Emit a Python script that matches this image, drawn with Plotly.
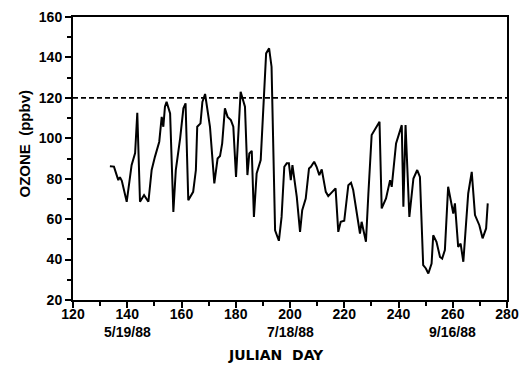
import plotly.graph_objects as go

day = [133.6, 135.1, 136.1, 136.7, 137.3, 138.0, 139.8, 141.6, 142.9, 143.7, 144.7, 146.2, 147.8,
       149.0, 150.2, 151.8, 152.7, 153.3, 153.9, 154.5, 155.8, 157.0, 157.9, 159.5, 160.7, 161.5,
       162.5, 164.3, 165.3, 165.8, 167.0, 167.7, 168.7, 169.3, 170.5, 172.1, 173.3, 174.2, 175.0,
       176.0, 177.0, 178.2, 179.1, 180.1, 180.9, 181.8, 183.4, 184.3, 185.0, 185.9, 186.7, 187.7,
       189.2, 191.2, 192.3, 193.2, 194.5, 195.9, 196.9, 197.9, 198.8, 199.6, 200.3, 200.9, 202.5,
       203.7, 204.5, 205.8, 207.0, 207.7, 208.9, 209.8, 210.8, 211.7, 213.2, 214.1, 216.8, 217.8,
       218.7, 220.0, 221.5, 222.5, 223.3, 225.8, 226.4, 227.3, 228.0, 228.9, 230.1, 233.0, 233.8,
       235.4, 236.9, 237.5, 239.1, 241.2, 241.8, 242.6, 243.0, 244.0, 245.5, 246.9, 247.9, 249.1,
       250.1, 251.0, 252.2, 252.8, 254.0, 255.3, 256.1, 257.1, 258.3, 259.6, 260.2, 260.8, 262.0,
       262.9, 263.9, 265.7, 267.0, 268.2, 269.8, 271.0, 272.3, 272.9]
ozone = [86.2, 86.0, 81.8, 79.3, 80.8, 79.0, 68.6, 86.7, 92.7, 112.6, 68.6, 71.9, 68.6,
         84.3, 90.8, 98.3, 110.6, 105.7, 115.6, 118.0, 112.3, 63.6, 84.3, 100.0, 114.8, 117.3,
         69.4, 73.5, 84.3, 105.7, 107.4, 118.0, 121.9, 115.6, 105.7, 77.7, 90.0, 91.2, 97.5,
         114.8, 110.6, 109.0, 105.7, 80.9, 99.1, 123.0, 115.6, 81.8, 92.5, 93.8, 61.1, 82.6,
         89.2, 142.0, 144.5, 135.4, 54.5, 49.3, 61.1, 85.9, 87.6, 87.6, 79.3, 86.7, 71.0,
         53.7, 64.4, 70.2, 85.1, 85.9, 88.4, 85.9, 81.8, 84.6, 73.5, 71.4, 75.2, 53.7,
         58.7, 59.2, 76.8, 78.0, 74.4, 52.9, 58.7, 52.0, 48.8, 72.7, 101.6, 108.2, 65.3,
         70.2, 79.3, 76.0, 97.5, 106.5, 66.1, 106.5, 93.3, 61.1, 80.1, 84.3, 80.9, 37.2,
         35.6, 33.1, 38.0, 52.0, 48.8, 41.3, 40.5, 44.7, 76.0, 67.8, 62.8, 67.8, 46.3,
         47.9, 38.9, 72.7, 83.4, 62.0, 57.0, 50.5, 55.4, 67.8]

standard = 120
date_days = [140, 200, 260]
date_labels = ["5/19/88", "7/18/88", "9/16/88"]
x_title = "JULIAN  DAY"
y_title = "OZONE  (ppbv)"

FONT = "Liberation Sans"
TXT = dict(family=FONT, size=14, color="black", weight="bold")

fig = go.Figure()
fig.add_trace(go.Scatter(x=day, y=ozone, mode="lines",
                         line=dict(color="black", width=2), showlegend=False))

fig.add_shape(type="line", xref="paper", x0=0, x1=1, yref="y", y0=standard, y1=standard,
              line=dict(color="black", width=1.6, dash="5px,3px"))

for d, lab in zip(date_days, date_labels):
    fig.add_annotation(x=d, xref="x", y=0, yref="paper", yshift=-32, text=lab,
                       showarrow=False, font=TXT, xanchor="center", yanchor="middle")

fig.add_annotation(x=0.4666, xref="paper", y=0, yref="paper", yshift=-55, text=x_title,
                   showarrow=False, font=dict(family="DejaVu Sans", size=14, color="black", weight="bold"),
                   xanchor="center", yanchor="middle")
fig.add_annotation(x=0, xref="paper", xshift=-48, y=0.553, yref="paper", text=y_title,
                   textangle=-90, showarrow=False, font=dict(family=FONT, size=15, color="black", weight="bold"),
                   xanchor="center", yanchor="middle")

axis_common = dict(showline=True, linecolor="black", linewidth=2, mirror=True,
                   ticks="outside", ticklen=6, tickwidth=1.5, tickcolor="black",
                   showgrid=False, zeroline=False, automargin=False,
                   tickfont=TXT,
                   minor=dict(ticks="outside", ticklen=4, tickwidth=1.5, tickcolor="black", dtick=10))

fig.update_xaxes(range=[120, 280], dtick=20, tick0=120, ticklabelstandoff=-6, **axis_common)
fig.update_yaxes(range=[20, 160], dtick=20, tick0=20, **axis_common)

fig.update_layout(width=525, height=373, margin=dict(l=73, r=18, t=17, b=73),
                  plot_bgcolor="white", paper_bgcolor="white")

fig.write_html("out.html", config={"displayModeBar": False},
               post_script="document.body.style.margin='0px';document.body.style.overflow='hidden';")
